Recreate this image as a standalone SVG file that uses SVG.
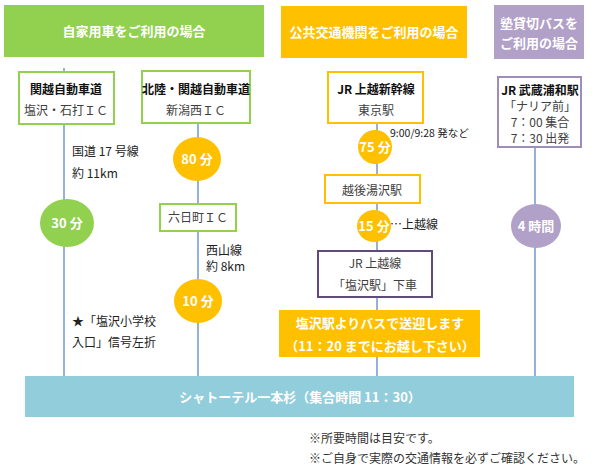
<svg xmlns="http://www.w3.org/2000/svg" width="596" height="474" viewBox="0 0 596 474">
<style>
text{font-family:"Noto Sans CJK JP","Noto Sans",sans-serif;}
.hd{font-size:13px;font-weight:700;fill:#fff;text-anchor:middle;}
.b1{font-size:12px;font-weight:700;fill:#111;text-anchor:middle;}
.b2{font-size:12px;fill:#404040;text-anchor:middle;}
.ct{font-size:13px;font-weight:700;fill:#fff;text-anchor:middle;}
.lb{font-size:12px;fill:#222;}
.ln{stroke:#4F7EC0;stroke-width:1.2;fill:none;}
.gbox{fill:#fff;stroke:#92D050;stroke-width:2;}
.obox{fill:#fff;stroke:#FFC000;stroke-width:2;}
</style>
<rect width="596" height="474" fill="#fff"/>
<g id="connectors">
<line class="ln" x1="64" y1="68" x2="64" y2="376"/>
<line class="ln" x1="198" y1="123" x2="198" y2="376"/>
<line class="ln" x1="377" y1="123" x2="377" y2="376"/>
<line class="ln" x1="535" y1="147" x2="535" y2="376" stroke="#7FA0D0"/>
</g>
<g id="header-car">
<rect x="4" y="5" width="260" height="52" fill="#92D050"/>
<text class="hd" x="134" y="36">自家用車をご利用の場合</text>
</g>
<g id="header-public">
<rect x="281" y="6" width="186" height="52" fill="#FFC000"/>
<text class="hd" x="374" y="37">公共交通機関をご利用の場合</text>
</g>
<g id="header-bus">
<rect x="494" y="5" width="90" height="54" fill="#B1A0C7"/>
<text class="hd" x="539" y="28">塾貸切バスを</text>
<text class="hd" x="539" y="48">ご利用の場合</text>
</g>
<g id="kanetsu">
<rect class="gbox" x="19" y="72" width="95" height="52"/>
<text class="b1" x="66" y="94">関越自動車道</text>
<text class="b2" x="66" y="115">塩沢・石打ＩＣ</text>
</g>
<g id="hokuriku">
<rect class="gbox" x="142" y="71" width="108" height="52"/>
<text class="b1" x="196" y="94">北陸・関越自動車道</text>
<text class="b2" x="196" y="115">新潟西ＩＣ</text>
</g>
<g id="route17">
<text class="lb" x="72" y="156">国道 17 号線</text>
<text class="lb" x="72" y="178">約 11km</text>
</g>
<g id="c30">
<ellipse cx="67" cy="223" rx="27" ry="24" fill="#92D050"/>
<text class="ct" x="67" y="228">30 分</text>
</g>
<g id="c80">
<ellipse cx="197" cy="159" rx="24" ry="22" fill="#FFC000"/>
<text class="ct" x="197" y="164">80 分</text>
</g>
<g id="muikamachi">
<rect class="gbox" x="160" y="204" width="76" height="27"/>
<text class="b2" x="198" y="222">六日町ＩＣ</text>
</g>
<g id="nishiyama">
<text class="lb" x="206" y="255" font-size="11.5">西山線</text>
<text class="lb" x="206" y="271" font-size="11.5">約 8km</text>
</g>
<g id="c10">
<ellipse cx="198" cy="301" rx="24" ry="22" fill="#FFC000"/>
<text class="ct" x="198" y="306">10 分</text>
</g>
<g id="signal">
<text class="lb" x="72" y="326">★「塩沢小学校</text>
<text class="lb" x="72" y="347">入口」信号左折</text>
</g>
<g id="shinkansen">
<rect class="obox" x="328" y="72" width="95" height="51"/>
<text class="b1" x="376" y="94">JR 上越新幹線</text>
<text class="b2" x="376" y="115">東京駅</text>
</g>
<text x="390" y="137" font-size="10.5" fill="#222">9:00/9:28 発など</text>
<g id="c75">
<circle cx="375" cy="147" r="17" fill="#FFC000"/>
<text class="ct" x="375" y="152">75 分</text>
</g>
<g id="echigoyuzawa">
<rect class="obox" x="325" y="175" width="95" height="28"/>
<text class="b2" x="372" y="195">越後湯沢駅</text>
</g>
<g id="c15">
<ellipse cx="374" cy="226" rx="17" ry="16" fill="#FFC000"/>
<text class="ct" x="374" y="231">15 分</text>
</g>
<text class="lb" x="390" y="229">…上越線</text>
<g id="shiozawa">
<rect x="318" y="251" width="114" height="46" fill="#fff" stroke="#604A7B" stroke-width="2"/>
<text class="b2" x="375" y="268" fill="#222">JR 上越線</text>
<text class="b2" x="375" y="290" fill="#222">「塩沢駅」下車</text>
</g>
<g id="shuttle">
<rect x="279" y="310" width="201" height="47" fill="#FFC000"/>
<text class="hd" x="380" y="328">塩沢駅よりバスで送迎します</text>
<text class="hd" x="380" y="351">（11：20 までにお越し下さい）</text>
</g>
<g id="musashiurawa">
<rect x="498" y="77" width="83" height="70" fill="#fff" stroke="#A08CB8" stroke-width="2"/>
<text class="b1" x="540" y="95">JR 武蔵浦和駅</text>
<text class="b2" x="540" y="111">「ナリア前」</text>
<text class="b2" x="540" y="127">7：00 集合</text>
<text class="b2" x="540" y="143">7：30 出発</text>
</g>
<g id="c4h">
<ellipse cx="536" cy="226" rx="25" ry="22" fill="#B1A0C7"/>
<text class="ct" x="536" y="231">4 時間</text>
</g>
<g id="destination">
<rect x="25" y="376" width="549" height="41" fill="#92CDDC"/>
<text class="hd" x="300" y="402">シャトーテル一本杉（集合時間 11：30）</text>
</g>
<g id="notes">
<text x="309" y="443" font-size="12" fill="#333">※所要時間は目安です。</text>
<text x="309" y="463" font-size="12" fill="#333">※ご自身で実際の交通情報を必ずご確認ください。</text>
</g>
</svg>
